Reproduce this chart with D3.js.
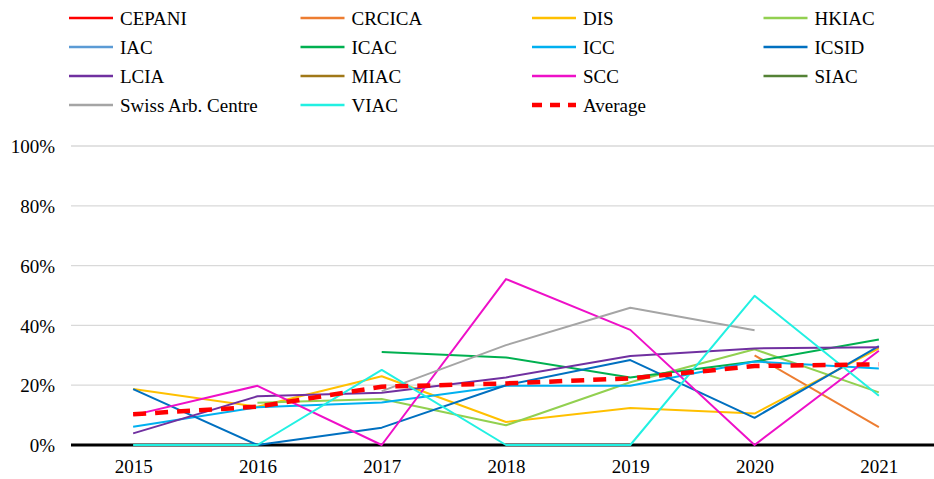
<!DOCTYPE html>
<html><head><meta charset="utf-8">
<script src="https://cdn.jsdelivr.net/npm/d3@7"></script>
<style>body{margin:0;background:#fff}svg{display:block}</style>
</head><body><svg id="c" width="934" height="479"></svg>
<script>
const years = ["2015","2016","2017","2018","2019","2020","2021"];
const yTicks = [0,20,40,60,80,100];
const seriesNames = ["CEPANI","CRCICA","DIS","HKIAC","IAC","ICAC","ICC","ICSID","LCIA","MIAC","SCC","SIAC","Swiss Arb. Centre","VIAC","Average"];
const seriesColors = ["#FF0000","#ED7D31","#FFC000","#92D050","#5B9BD5","#00B050","#00B0F0","#0070C0","#7030A0","#A07818","#EE10C8","#548235","#A5A5A5","#22F0E2","#FF0000"];
const CEPANI = [null,null,null,null,null,null,null];
const CRCICA = [null,null,null,null,null,30,6];
const DIS = [18.7,12.8,23,7.7,12.4,10.5,32.3];
const HKIAC = [null,14.1,15.4,6.6,21,32,17.6];
const IAC = [null,null,null,null,null,null,null];
const ICAC = [null,null,31.1,29.3,22.6,27.9,35.3];
const ICC = [6.1,12.6,14.2,19.8,19.8,27.9,25.6];
const ICSID = [18.7,0,5.8,20,28.4,9.1,33.1];
const LCIA = [3.9,16.3,17.5,22.6,29.8,32.3,32.7];
const MIAC = [null,null,null,null,null,null,null];
const SCC = [10,19.8,0,55.5,38.5,0,31.5];
const SIAC = [null,null,null,null,null,null,null];
const SWISS = [null,null,18,33.4,45.9,38.4,null];
const VIAC = [0,0,25.1,0,0,49.9,16.5];
const AVERAGE = [10.3,12.8,19.5,20.6,22.3,26.4,27];
const seriesValues = [CEPANI,CRCICA,DIS,HKIAC,IAC,ICAC,ICC,ICSID,LCIA,MIAC,SCC,SIAC,SWISS,VIAC,AVERAGE];

const FONT = "'Liberation Serif', 'Times New Roman', Times, serif";
const svg = d3.select("#c");
const W = 934;
const x = d3.scalePoint().domain(years).range([71, 941]).padding(0.5);
const y = d3.scaleLinear().domain([0,100]).range([445, 146]);

// gridlines
svg.append("g").selectAll("line").data(yTicks.filter(d=>d>0)).join("line")
  .attr("x1",71).attr("x2",W).attr("y1",d=>y(d)).attr("y2",d=>y(d))
  .attr("stroke","#d9d9d9").attr("stroke-width",1.3);

// y axis labels
const yAxis = d3.axisLeft(y).tickValues(yTicks).tickFormat(d=>d+"%").tickSize(0).tickPadding(0);
const ga = svg.append("g").attr("transform","translate(55,0)").call(yAxis);
ga.select(".domain").remove();
ga.attr("font-family",null).attr("font-size",null);
ga.selectAll("text").style("font-family",FONT).style("font-size","19px").attr("dy","0.35em").attr("fill","#000");

// x axis labels
const xAxis = d3.axisBottom(x).tickSize(0).tickPadding(0);
const gx = svg.append("g").attr("transform","translate(0,459)").call(xAxis);
gx.select(".domain").remove();
gx.attr("font-family",null).attr("font-size",null);
gx.selectAll("text").style("font-family",FONT).style("font-size","19px").attr("dy","0.75em").attr("fill","#000");

// baseline
svg.append("line").attr("x1",71).attr("x2",W).attr("y1",y(0)).attr("y2",y(0))
  .attr("stroke","#000").attr("stroke-width",3);

const line = d3.line().defined(d=>d!=null).x((d,i)=>x(years[i])).y(d=>y(d));
seriesValues.forEach((vals,k)=>{
  const isAvg = seriesNames[k]==="Average";
  svg.append("path").datum(vals).attr("d",line)
    .attr("fill","none").attr("stroke",seriesColors[k])
    .attr("stroke-width",isAvg?4.5:2)
    .attr("stroke-dasharray",isAvg?"13,9":null)
    .attr("stroke-linejoin","round");
});

// legend
const lg = svg.append("g");
seriesNames.forEach((n,k)=>{
  const col = k%4, row = Math.floor(k/4);
  const lx = 69 + col*231.5, ly = 18 + row*29;
  const isAvg = n==="Average";
  lg.append("line").attr("x1",lx).attr("x2",lx+44).attr("y1",ly).attr("y2",ly)
    .attr("stroke",seriesColors[k]).attr("stroke-width",isAvg?4.5:2.5)
    .attr("stroke-dasharray",isAvg?"10,8":null);
  lg.append("text").attr("x",lx+51).attr("y",ly).attr("dy","0.35em")
    .style("font-family",FONT).style("font-size","19px").attr("fill","#000").text(n);
});
</script></body></html>
